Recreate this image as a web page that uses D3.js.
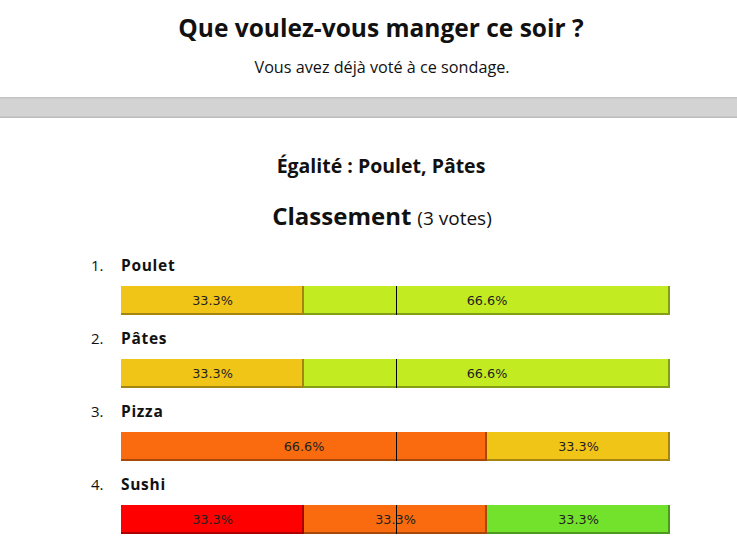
<!DOCTYPE html>
<html><head><meta charset="utf-8">
<script src="https://cdn.jsdelivr.net/npm/d3@7"></script>
<style>html,body{margin:0;padding:0;background:#fff;overflow:hidden}</style>
</head><body>
<svg id="c" width="737" height="554"></svg>
<script>
const title = "Que voulez-vous manger ce soir ?";
const subtitle = "Vous avez déjà voté à ce sondage.";
const tieText = "Égalité : Poulet, Pâtes";
const rankTitle = "Classement";
const totalVotes = 3;
const candidates = ["Poulet", "Pâtes", "Pizza", "Sushi"];
const grades = ["À rejeter", "Insuffisant", "Passable", "Assez bien", "Bien"];
const gradeColors = ["#ff0000", "#f96b0e", "#f1c518", "#c3eb21", "#72e22c"];
// votes per grade for each candidate (order of grades)
const votesPoulet = [0, 0, 1, 2, 0];
const votesPates  = [0, 0, 1, 2, 0];
const votesPizza  = [0, 2, 1, 0, 0];
const votesSushi  = [1, 1, 0, 0, 1];
const votes = [votesPoulet, votesPates, votesPizza, votesSushi];

const svg = d3.select("#c");
const W = 737;
const font = "'Open Sans', sans-serif";

svg.append("text").attr("x", 381).attr("y", 37).attr("text-anchor","middle")
  .attr("font-family", font).attr("font-weight", 700).attr("font-size", 24.5).attr("fill","#111").text(title);
svg.append("text").attr("x", 382).attr("y", 73).attr("text-anchor","middle")
  .attr("font-family", font).attr("font-size", 16.2).attr("fill","#111").text(subtitle);

// grey band
svg.append("rect").attr("x",0).attr("y",97).attr("width",W).attr("height",21).attr("fill","#d3d3d3");
svg.append("rect").attr("x",0).attr("y",97).attr("width",W).attr("height",1.5).attr("fill","#c4c4c4");
svg.append("rect").attr("x",0).attr("y",116.5).attr("width",W).attr("height",1.5).attr("fill","#bdbdbd");

svg.append("text").attr("x", 381).attr("y", 173).attr("text-anchor","middle")
  .attr("font-family", font).attr("font-weight", 700).attr("font-size", 19.5).attr("fill","#111").text(tieText);

const rt = svg.append("text").attr("x", 382).attr("y", 225).attr("text-anchor","middle")
  .attr("font-family", font).attr("fill","#111");
rt.append("tspan").attr("font-weight",700).attr("font-size",24).text(rankTitle);
rt.append("tspan").attr("font-size",19).attr("dx",6).text(`(${totalVotes} votes)`);

const x = d3.scaleLinear().domain([0, 1]).range([121, 670]);
const y = d3.scaleBand().domain(candidates).range([251, 543]).paddingInner(0);
const fmt = v => (Math.floor(v * 1000) / 10).toFixed(1) + "%";

candidates.forEach((c, i) => {
  const y0 = y(c);
  const g = svg.append("g");
  g.append("text").attr("x", 91).attr("y", y0 + 20).attr("font-family", font)
    .attr("font-size", 15).attr("fill","#111").text((i+1) + ".");
  g.append("text").attr("x", 121).attr("y", y0 + 20).attr("font-family", font)
    .attr("font-weight", 700).attr("font-size", 15.5).attr("letter-spacing", 0.7).attr("fill","#111").text(c);
  const barY = y0 + 35, barH = 29;
  const counts = votes[i];
  let acc = 0;
  const segs = [];
  counts.forEach((n, k) => {
    if (n > 0) { segs.push({k, start: acc / totalVotes, end: (acc + n) / totalVotes, frac: n / totalVotes}); }
    acc += n;
  });
  segs.forEach(s => {
    const x0 = x(s.start), x1 = x(s.end);
    const col = d3.color(gradeColors[s.k]);
    g.append("rect").attr("x", x0).attr("y", barY).attr("width", x1 - x0).attr("height", barH)
      .attr("fill", col.darker(1.1));
    g.append("rect").attr("x", x0).attr("y", barY).attr("width", x1 - x0 - 2).attr("height", barH - 2)
      .attr("fill", gradeColors[s.k]);
    g.append("text").attr("x", (x0 + x1) / 2).attr("y", barY + barH/2 + 4.5).attr("text-anchor","middle")
      .attr("font-family","'DejaVu Sans', sans-serif").attr("font-size", 12.8).attr("fill","#222").text(fmt(s.frac));
  });
  g.append("line").attr("x1", Math.round(x(0.5)) + 0.5).attr("x2", Math.round(x(0.5)) + 0.5)
    .attr("y1", barY).attr("y2", barY + barH).attr("stroke","#000").attr("stroke-width",1);
});
</script>
</body></html>
